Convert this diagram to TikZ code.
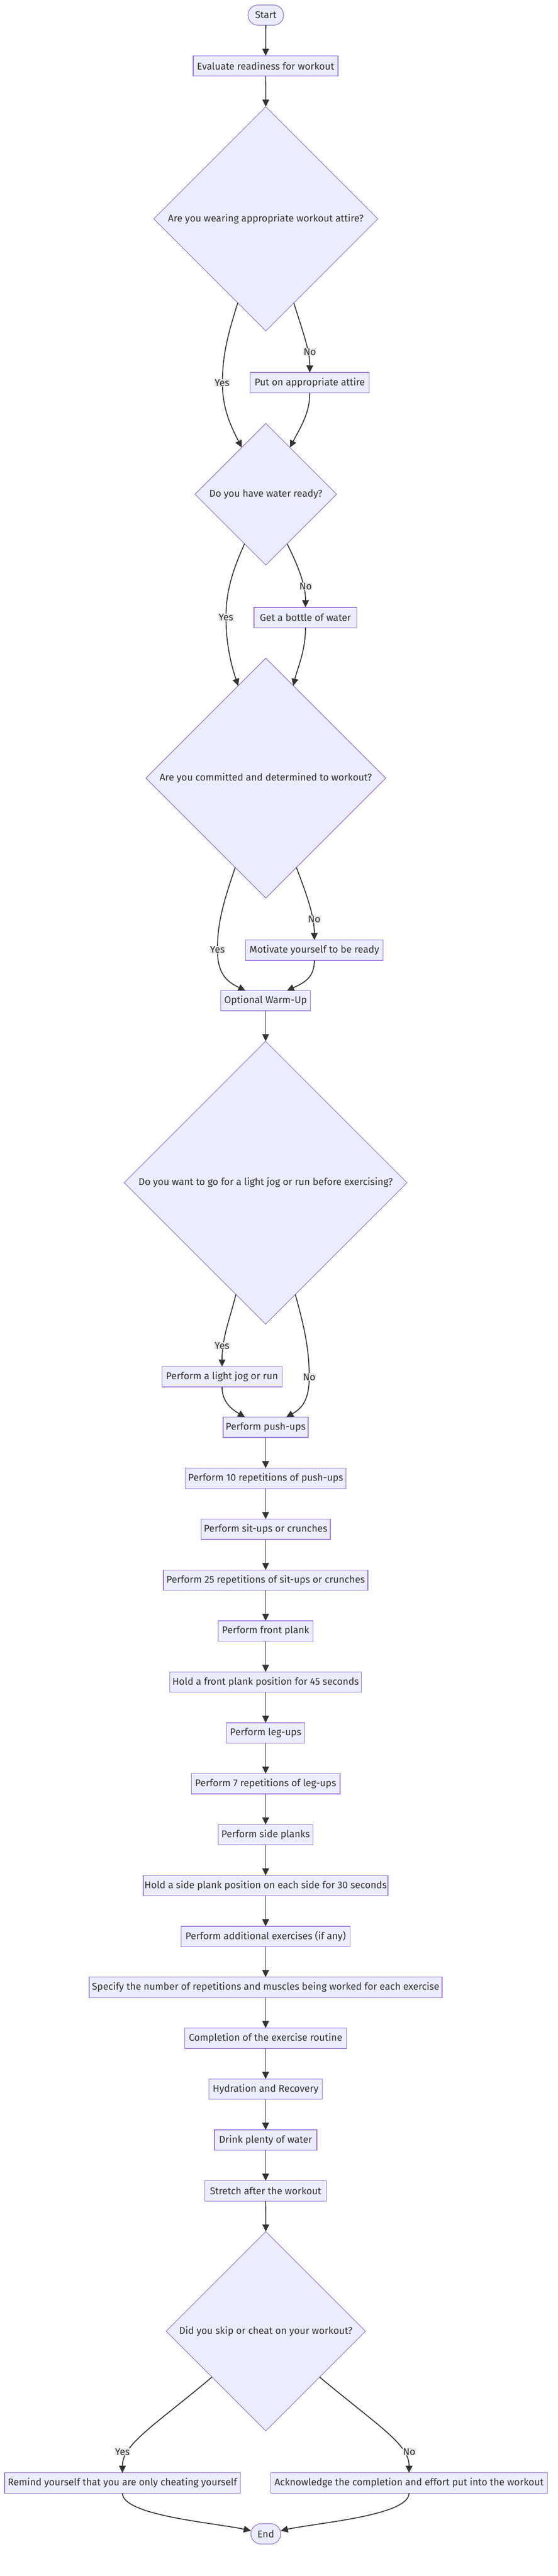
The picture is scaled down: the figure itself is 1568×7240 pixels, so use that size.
\documentclass[tikz,border=0pt]{standalone}
\usepackage{fontspec}
\setmainfont{Fira Sans}
\usetikzlibrary{arrows.meta,shapes.geometric,calc}
\definecolor{nodefill}{HTML}{ECECFF}
\definecolor{nodeline}{HTML}{9370DB}
\definecolor{edgec}{HTML}{333333}
\definecolor{textc}{HTML}{333333}
\definecolor{lblbg}{HTML}{E8E8E8}
\newcommand\dfont{\fontsize{27.5pt}{33pt}\selectfont}
\begin{document}
\begin{tikzpicture}[x=1pt,y=-1pt,
  box/.style={draw=nodeline, fill=nodefill, line width=1.8pt, minimum height=57pt,
    inner sep=0pt, outer sep=0pt, text=textc, font=\dfont},
  term/.style={box, rounded corners=28.5pt},
  dec/.style={diamond, aspect=1, draw=nodeline, fill=nodefill, line width=1.6pt,
    inner sep=0pt, outer sep=0pt, text=textc, font=\dfont},
  edge/.style={draw=edgec, line width=2.6pt, -{Triangle[length=20pt,width=19pt]}},
  lbl/.style={fill=lblbg, inner sep=1pt, text=textc, font=\dfont}]
\useasboundingbox (0,0) rectangle (1568,7240);
% nodes
\node[term, minimum width=100pt] (start) at (747,42.5) {Start};
\node[box, minimum width=407pt] (eval) at (746.5,185.5) {Evaluate readiness for workout};
\node[dec, minimum width=630pt, minimum height=630pt] (d1) at (747,615) {Are you wearing appropriate workout attire?};
\node[box, minimum width=335pt] (attire) at (870.5,1075.5) {Put on appropriate attire};
\node[dec, minimum width=398pt, minimum height=398pt] (d2) at (747,1389) {Do you have water ready?};
\node[box, minimum width=289pt] (bottle) at (858.5,1735.5) {Get a bottle of water};
\node[dec, minimum width=674pt, minimum height=674pt] (d3) at (747,2187) {Are you committed and determined to workout?};
\node[box, minimum width=387pt] (motiv) at (883.5,2670.5) {Motivate yourself to be ready};
\node[box, minimum width=251pt] (warm) at (746.5,2812.5) {Optional Warm-Up};
\node[dec, minimum width=795pt, minimum height=795pt] (d4) at (746.5,3324) {Do you want to go for a light jog or run before exercising?};
\node[box, minimum width=338pt] (jog) at (624,3869.5) {Perform a light jog or run};
\node[box, minimum width=239pt] (push) at (746.5,4011.5) {Perform push-ups};
\node[box, minimum width=451pt] (rep10) at (746.5,4155) {Perform 10 repetitions of push-ups};
\node[box, minimum width=363pt] (situp) at (746.5,4298) {Perform sit-ups or crunches};
\node[box, minimum width=575pt] (rep25) at (746.5,4441) {Perform 25 repetitions of sit-ups or crunches};
\node[box, minimum width=267pt] (front) at (746.5,4584) {Perform front plank};
\node[box, minimum width=538pt] (holdf) at (746.5,4727.5) {Hold a front plank position for 45 seconds};
\node[box, minimum width=220pt] (legup) at (746.5,4870.5) {Perform leg-ups};
\node[box, minimum width=418pt] (rep7) at (746.5,5013.5) {Perform 7 repetitions of leg-ups};
\node[box, minimum width=266pt] (side) at (746.5,5156.5) {Perform side planks};
\node[box, minimum width=688pt] (holds) at (746.5,5299.5) {Hold a side plank position on each side for 30 seconds};
\node[box, minimum width=474pt] (addit) at (746.5,5442.5) {Perform additional exercises (if any)};
\node[box, minimum width=992pt] (spec) at (746.5,5585.5) {Specify the number of repetitions and muscles being worked for each exercise};
\node[box, minimum width=455pt] (compl) at (746.5,5728.5) {Completion of the exercise routine};
\node[box, minimum width=318pt] (hydr) at (746.5,5871.5) {Hydration and Recovery};
\node[box, minimum width=288pt] (drink) at (746.5,6014.5) {Drink plenty of water};
\node[box, minimum width=342pt] (stretch) at (746.5,6157.5) {Stretch after the workout};
\node[dec, minimum width=560pt, minimum height=560pt] (d5) at (747,6552) {Did you skip or cheat on your workout?};
\node[box, minimum width=662pt] (remind) at (344,6978.5) {Remind yourself that you are only cheating yourself};
\node[box, minimum width=777pt] (ack) at (1149.5,6978.5) {Acknowledge the completion and effort put into the workout};
\node[term, minimum width=84pt] (end) at (747,7121.5) {End};
% edges
\draw[edge] (start.south) -- (eval.north);
\draw[edge] (eval.south) -- (d1.north);
\draw[edge] ($(d1.south)!0.25!(d1.west)$) .. controls (640,940) and (625,1000) .. (625,1076)
  .. controls (625,1150) and (650,1200) .. ($(d2.north)!0.34!(d2.west)$);
\draw[edge] ($(d1.south)!0.25!(d1.east)$) .. controls (850,930) and (871,985) .. (attire.north);
\draw[edge] (attire.south) .. controls (871,1160) and (845,1200) .. ($(d2.north)!0.34!(d2.east)$);
\draw[edge] ($(d2.south)!0.3!(d2.west)$) .. controls (655,1600) and (635,1660) .. (635,1735)
  .. controls (635,1810) and (650,1870) .. ($(d3.north)!0.23!(d3.west)$);
\draw[edge] ($(d2.south)!0.3!(d2.east)$) .. controls (838,1590) and (859,1645) .. (bottle.north);
\draw[edge] (bottle.south) .. controls (859,1830) and (835,1880) .. ($(d3.north)!0.23!(d3.east)$);
\draw[edge] ($(d3.south)!0.255!(d3.west)$) .. controls (630,2530) and (611,2590) .. (611,2669)
  .. controls (611,2740) and (640,2760) .. ($(warm.north)+(-57,0)$);
\draw[edge] ($(d3.south)!0.255!(d3.east)$) .. controls (860,2510) and (883,2570) .. (motiv.north);
\draw[edge] (motiv.south) .. controls (883,2745) and (860,2760) .. ($(warm.north)+(60,0)$);
\draw[edge] (warm.south) -- (d4.north);
\draw[edge] ($(d4.south)!0.21!(d4.west)$) .. controls (645,3710) and (624,3760) .. (jog.north);
\draw[edge] ($(d4.south)!0.21!(d4.east)$) .. controls (855,3730) and (869,3790) .. (869,3870)
  .. controls (869,3940) and (845,3960) .. ($(push.north)+(58,0)$);
\draw[edge] (jog.south) .. controls (624,3940) and (650,3960) .. ($(push.north)+(-58,0)$);
\draw[edge] (push.south) -- (rep10.north);
\draw[edge] (rep10.south) -- (situp.north);
\draw[edge] (situp.south) -- (rep25.north);
\draw[edge] (rep25.south) -- (front.north);
\draw[edge] (front.south) -- (holdf.north);
\draw[edge] (holdf.south) -- (legup.north);
\draw[edge] (legup.south) -- (rep7.north);
\draw[edge] (rep7.south) -- (side.north);
\draw[edge] (side.south) -- (holds.north);
\draw[edge] (holds.south) -- (addit.north);
\draw[edge] (addit.south) -- (spec.north);
\draw[edge] (spec.south) -- (compl.north);
\draw[edge] (compl.south) -- (hydr.north);
\draw[edge] (hydr.south) -- (drink.north);
\draw[edge] (drink.south) -- (stretch.north);
\draw[edge] (stretch.south) -- (d5.north);
\draw[edge] ($(d5.south)!0.54!(d5.west)$) .. controls (430,6820) and (344,6870) .. (remind.north);
\draw[edge] ($(d5.south)!0.54!(d5.east)$) .. controls (1065,6820) and (1150,6870) .. (ack.north);
\draw[edge] (remind.south) .. controls (344,7070) and (600,7090) .. ($(end.west)+(0,-9)$);
\draw[edge] (ack.south) .. controls (1150,7070) and (894,7090) .. ($(end.east)+(0,-9)$);
% edge labels
\node[lbl] (l1y) at (624,1076) {Yes};
\node[lbl] (l1n) at (871,989) {No};
\node[lbl] (l2y) at (635,1735) {Yes};
\node[lbl] (l2n) at (859,1648) {No};
\node[lbl] (l3y) at (611,2669) {Yes};
\node[lbl] (l3n) at (883,2583) {No};
\node[lbl] (l4y) at (624,3782) {Yes};
\node[lbl] (l4n) at (869,3870) {No};
\node[lbl] (l5y) at (344,6891) {Yes};
\node[lbl] (l5n) at (1150,6891) {No};
\end{tikzpicture}
\end{document}
